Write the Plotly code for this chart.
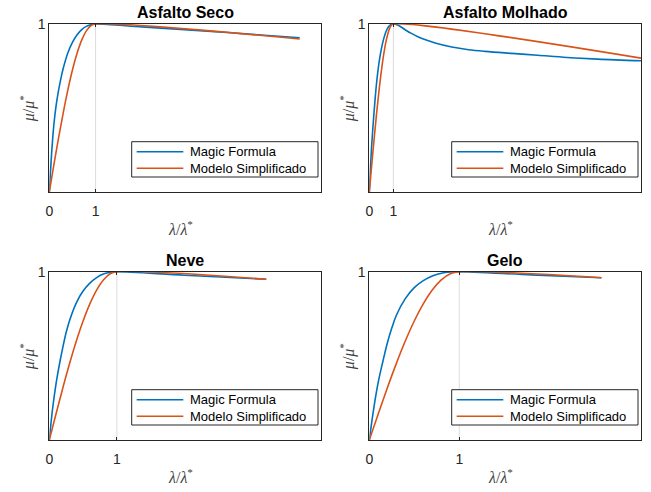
import plotly.graph_objects as go

W, H = 651, 492

titles = ["Asfalto Seco", "Asfalto Molhado", "Neve", "Gelo"]
x_max = [5.87, 11.3, 4.02, 3.02]

# Magic Formula (blue) per panel
mf_x = [
    [0, 0.025, 0.05, 0.075, 0.1, 0.15, 0.2, 0.25, 0.3, 0.4, 0.5, 0.6, 0.7, 0.8, 0.9, 1.0,
     2.0, 3.0, 4.0, 5.41],
    [0, 0.05, 0.1, 0.15, 0.2, 0.25, 0.3, 0.4, 0.5, 0.6, 0.7, 0.8, 0.9, 1.0, 1.2, 1.49, 1.75,
     2.04, 2.4, 2.74, 3.43, 4.13, 4.82, 5.93, 7.0, 8.22, 9.5, 11.3],
    [0, 0.05, 0.1, 0.15, 0.2, 0.25, 0.3, 0.4, 0.5, 0.6, 0.7, 0.8, 0.9, 1.0, 2.0, 3.21],
    [0, 0.05, 0.1, 0.15, 0.2, 0.25, 0.3, 0.4, 0.5, 0.6, 0.7, 0.8, 0.9, 1.0, 1.8, 2.58],
]
mf_y = [
    [0, 0.12, 0.23, 0.325, 0.405, 0.52, 0.605, 0.675, 0.735, 0.827, 0.89, 0.936, 0.967,
     0.986, 0.996, 1.0, 0.983, 0.965, 0.946, 0.918],
    [0, 0.15, 0.28, 0.385, 0.48, 0.568, 0.645, 0.765, 0.85, 0.913, 0.957, 0.984, 0.997, 1.0,
     0.992, 0.966, 0.944, 0.923, 0.903, 0.887, 0.863, 0.847, 0.837, 0.825, 0.814, 0.801,
     0.791, 0.781],
    [0, 0.19, 0.335, 0.45, 0.55, 0.64, 0.71, 0.815, 0.885, 0.932, 0.965, 0.986, 0.997, 1.0,
     0.979, 0.955],
    [0, 0.19, 0.345, 0.465, 0.575, 0.665, 0.74, 0.84, 0.905, 0.947, 0.975, 0.991, 0.998, 1.0,
     0.981, 0.964],
]
# Modelo Simplificado (orange) per panel
ms_x = [
    [0, 0.1, 0.2, 0.3, 0.4, 0.5, 0.6, 0.7, 0.8, 0.9, 1.0, 5.41],
    [0, 0.1, 0.2, 0.3, 0.4, 0.5, 0.6, 0.7, 0.8, 0.9, 1.0, 11.3],
    [0, 0.1, 0.2, 0.3, 0.4, 0.5, 0.6, 0.7, 0.8, 0.9, 1.0, 3.21],
    [0, 0.1, 0.2, 0.3, 0.4, 0.5, 0.6, 0.7, 0.8, 0.9, 1.0, 2.58],
]
ms_y = [
    [0, 0.165, 0.322, 0.47, 0.606, 0.726, 0.826, 0.904, 0.959, 0.99, 1.0, 0.911],
    [0, 0.16, 0.315, 0.462, 0.598, 0.718, 0.82, 0.9, 0.956, 0.989, 1.0, 0.797],
    [0, 0.156, 0.309, 0.454, 0.588, 0.707, 0.809, 0.891, 0.951, 0.988, 1.0, 0.955],
    [0, 0.156, 0.309, 0.454, 0.588, 0.707, 0.809, 0.891, 0.951, 0.988, 1.0, 0.964],
]

names = ["Magic Formula", "Modelo Simplificado"]
colors = ["#0072BD", "#D95319"]
x_ticks = [0, 1]
y_ticks = [1]

# layout geometry (pixels)
col_x = [(49.3, 321.0), (369.3, 641.0)]
row_y = [(24.0, 192.0), (271.7, 440.0)]

fig = go.Figure()
axis_color = "#262626"
annotations = []
shapes = []

def px(x):
    return x / W

def py(y):
    return 1 - y / H

for i in range(4):
    r, c = divmod(i, 2)
    x0, x1 = col_x[c]
    yt, yb = row_y[r]
    xd = [px(x0), px(x1)]
    yd = [py(yb), py(yt)]
    sfx = "" if i == 0 else str(i + 1)
    xa, ya = "x" + sfx, "y" + sfx
    for k, (xs, ys) in enumerate([(mf_x[i], mf_y[i]), (ms_x[i], ms_y[i])]):
        fig.add_trace(go.Scatter(
            x=xs, y=ys, mode="lines", name=names[k],
            line=dict(color=colors[k], width=1.6, shape="spline", smoothing=1.0),
            xaxis=xa, yaxis=ya, showlegend=False,
        ))
    common = dict(showgrid=False, zeroline=False, showline=True, linecolor=axis_color,
                  linewidth=1, mirror="ticks", ticks="inside", ticklen=3,
                  tickcolor=axis_color,
                  tickfont=dict(family="Liberation Sans", size=14, color="#262626"))
    fig.update_layout(**{
        "xaxis" + sfx: dict(domain=xd, range=[0, x_max[i]], tickvals=x_ticks,
                            ticktext=[str(v) for v in x_ticks], anchor=ya,
                            ticklabelstandoff=6, automargin=False, **common),
        "yaxis" + sfx: dict(domain=yd, range=[0, 1], tickvals=y_ticks,
                            ticktext=[str(v) for v in y_ticks], anchor=xa,
                            automargin=False, **common),
    })
    # light grey reference line at lambda/lambda* = 1
    shapes.append(dict(type="line", xref=xa, yref=ya, x0=1, x1=1, y0=0, y1=1,
                       line=dict(color="#dcdcdc", width=1), layer="below"))
    # legend box (drawn manually to match the MATLAB look)
    shapes.append(dict(type="rect", xref="paper", yref="paper",
                       x0=px(x1 - 189.3), x1=px(x1 - 3), y0=py(yb - 15), y1=py(yb - 50.3),
                       line=dict(color="#262626", width=1), fillcolor="white", layer="above"))
    for k in range(2):
        ly = yb - 40.3 + 16.6 * k
        shapes.append(dict(type="line", xref="paper", yref="paper",
                           x0=px(x1 - 184.3), x1=px(x1 - 137.7), y0=py(ly), y1=py(ly),
                           line=dict(color=colors[k], width=1.6), layer="above"))
        annotations.append(dict(text=names[k], xref="paper", yref="paper",
                                x=px(x1 - 132.7), y=py(ly), xanchor="left", yanchor="middle",
                                showarrow=False,
                                font=dict(family="Liberation Sans", size=13, color="#000")))
    cx = (x0 + x1) / 2
    annotations.append(dict(text="<b>" + titles[i] + "</b>", xref="paper", yref="paper",
                            x=px(cx), y=py(yt - 11), xanchor="center", yanchor="middle",
                            showarrow=False, font=dict(family="Liberation Sans", size=16, color="#000")))
    annotations.append(dict(text="<i>λ</i>/<i>λ</i><sup>*</sup>", xref="paper", yref="paper",
                            x=px(x0 + 131), y=py(yb + 36), xanchor="center", yanchor="middle",
                            showarrow=False, font=dict(family="Liberation Serif", size=16, color="#404040")))
    annotations.append(dict(text="<i>μ</i>/<i>μ</i><sup>*</sup>", xref="paper", yref="paper",
                            x=px(x0 - 21), y=py((yt + yb) / 2), xanchor="center", yanchor="middle",
                            textangle=-90, showarrow=False,
                            font=dict(family="Liberation Serif", size=16, color="#404040")))

fig.update_layout(width=W, height=H, margin=dict(l=0, r=0, t=0, b=0, autoexpand=False),
                  paper_bgcolor="white", plot_bgcolor="white", showlegend=False,
                  annotations=annotations, shapes=shapes)

fig.write_html("out.html")
